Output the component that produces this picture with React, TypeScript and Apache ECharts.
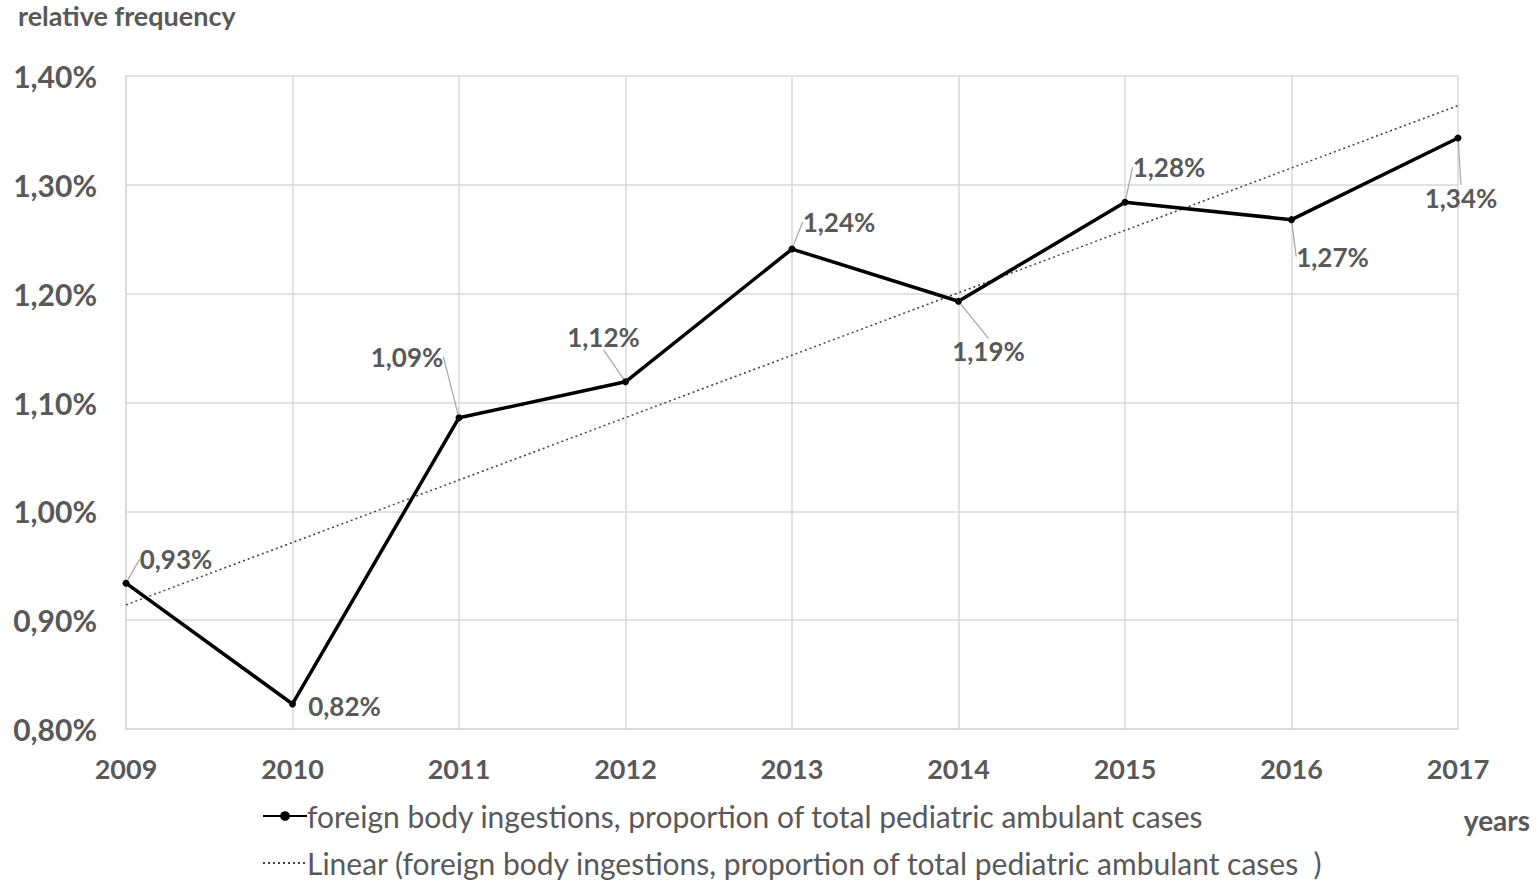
import React, { useEffect, useRef } from "react";
import * as echarts from "echarts";

const years = ["2009", "2010", "2011", "2012", "2013", "2014", "2015", "2016", "2017"];
const frequency = [0.934, 0.823, 1.086, 1.119, 1.241, 1.193, 1.284, 1.268, 1.343];
const yTicks = { min: 0.8, max: 1.4, interval: 0.1 };
const seriesName = "foreign body ingestions, proportion of total pediatric ambulant cases";
const trendName = "Linear (foreign body ingestions, proportion of total pediatric ambulant cases  )";

// label offsets (layout only)
const labelOffsets = [
  [50, -24], [52, 2], [-52, -61], [-22, -45], [47, -27], [30, 50], [44, -35], [41, 37], [3, 60],
];
const hideLeader = [false, true, false, false, false, false, false, false, false];

function linearTrend(vals: number[]): number[] {
  const n = vals.length;
  const mx = (n - 1) / 2;
  const my = vals.reduce((a, b) => a + b, 0) / n;
  let sxy = 0, sxx = 0;
  vals.forEach((v, i) => { sxy += (i - mx) * (v - my); sxx += (i - mx) * (i - mx); });
  const b = sxy / sxx;
  return vals.map((_, i) => my + b * (i - mx));
}

const fmt = (v: number) => v.toFixed(2).replace(".", ",") + "%";
const FONT = "Lato, sans-serif";
const GRAY = "#595959";

const legendBase = {
  orient: "horizontal",
  left: 262,
  padding: 0,
  itemWidth: 44,
  itemHeight: 12,
  textStyle: { fontSize: 30, color: GRAY, fontFamily: FONT, padding: [0, 0, 0, -5] },
};

export default function App() {
  const ref = useRef<HTMLDivElement>(null);
  useEffect(() => {
    const chart = echarts.init(ref.current!, undefined, { renderer: "svg" });
    const trend = linearTrend(frequency);
    chart.setOption({
      animation: false,
      textStyle: { fontFamily: FONT },
      grid: { left: 126, right: 80, top: 76, bottom: 152 },
      graphic: [
        { type: "text", left: 18, top: 2, style: { text: "relative frequency", font: `bold 27px ${FONT}`, fill: GRAY } },
        { type: "text", right: 8, top: 806, style: { text: "years", font: `bold 28px ${FONT}`, fill: GRAY } },
      ],
      legend: [
        { ...legendBase, top: 801, data: [{ name: seriesName }] },
        { ...legendBase, top: 848, data: [{ name: trendName, itemStyle: { opacity: 0 } }] },
      ],
      xAxis: {
        type: "category",
        data: years,
        boundaryGap: false,
        axisLine: { lineStyle: { color: "#d9d9d9", width: 1.5 } },
        axisTick: { show: false },
        splitLine: { show: true, lineStyle: { color: "#d9d9d9", width: 1.5 } },
        axisLabel: { fontSize: 27, fontWeight: "bold", color: GRAY, margin: 26, fontFamily: FONT },
      },
      yAxis: {
        type: "value",
        min: yTicks.min,
        max: yTicks.max,
        interval: yTicks.interval,
        axisLine: { show: true, lineStyle: { color: "#d9d9d9", width: 1.5 } },
        axisTick: { show: false },
        splitLine: { lineStyle: { color: "#d9d9d9", width: 1.5 } },
        axisLabel: { fontSize: 30, fontWeight: "bold", color: GRAY, margin: 29, formatter: fmt, fontFamily: FONT },
      },
      series: [
        {
          name: seriesName,
          type: "line",
          data: frequency.map((v, i) => ({ value: v, labelLine: { show: !hideLeader[i] } })),
          symbol: "circle",
          symbolSize: 7,
          itemStyle: { color: "#000" },
          lineStyle: { color: "#000", width: 3.5 },
          z: 3,
          label: {
            show: true,
            position: "inside",
            distance: 0,
            formatter: (p: any) => fmt(p.value),
            fontSize: 26,
            fontWeight: "bold",
            color: GRAY,
            fontFamily: FONT,
          },
          labelLine: { show: true, lineStyle: { color: "#a6a6a6", width: 1.2 } },
          labelLayout: (p: any) => {
            const o = labelOffsets[p.dataIndex];
            return { dx: o[0], dy: o[1] };
          },
        },
        {
          name: trendName,
          type: "line",
          data: trend,
          symbol: "none",
          lineStyle: { color: "#404040", width: 1.5, type: [2, 3] },
          itemStyle: { color: "#404040" },
          z: 2,
        },
      ],
    });
    return () => chart.dispose();
  }, []);
  return <div ref={ref} style={{ width: 1538, height: 881, position: "absolute", left: 0, top: 0, background: "#fff" }} />;
}
